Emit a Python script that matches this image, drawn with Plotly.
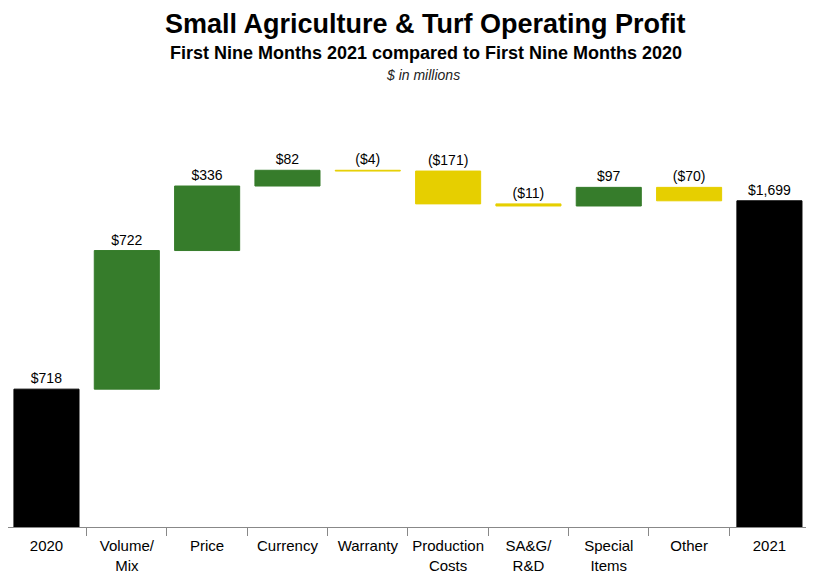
import numpy as np
import plotly.graph_objects as go

categories = ["2020", "Volume/<br>Mix", "Price", "Currency", "Warranty",
              "Production<br>Costs", "SA&G/<br>R&D", "Special<br>Items", "Other", "2021"]
values = [718, 722, 336, 82, -4, -171, -11, 97, -70, 1699]
labels = ["$718", "$722", "$336", "$82", "($4)", "($171)", "($11)", "$97", "($70)", "$1,699"]

GREEN = "#367C2B"
YELLOW = "#E6CF00"
BLACK = "#000000"

# bar bases: totals start at 0, steps start at running total
vals = np.array(values, dtype=float)
steps = vals[1:-1]
ends = vals[0] + np.cumsum(steps)
starts = np.concatenate([[vals[0]], ends[:-1]])
base = [0] + list(np.minimum(starts, ends)) + [0]
height = [vals[0]] + list(np.abs(steps)) + [vals[-1]]
colors = [BLACK] + [GREEN if v > 0 else YELLOW for v in steps] + [BLACK]

font = "Liberation Sans, Arial, sans-serif"

# the page body adds an 8px margin, so the figure is a bit smaller than the window
W, H = 806, 573
TOP, BOTTOM = 102, 54

fig = go.Figure(go.Bar(
    x=categories,
    y=height,
    base=base,
    marker=dict(color=colors, line=dict(color=colors, width=1)),
    text=labels,
    textposition="outside",
    cliponaxis=False,
    textfont=dict(family=font, size=14, color="#000"),
    width=0.81,
    hoverinfo="skip",
))

fig.update_layout(
    width=W, height=H,
    margin=dict(l=0, r=4, t=TOP, b=BOTTOM, autoexpand=False),
    plot_bgcolor="white",
    paper_bgcolor="white",
    showlegend=False,
    font=dict(family=font, color="#000"),
)

def py(page_y):
    # page pixel y -> paper coordinate
    fy = page_y - 8
    bottom = H - BOTTOM
    return (bottom - fy) / (bottom - TOP)

cx = 0.521
fig.add_annotation(text="<b>Small Agriculture & Turf Operating Profit</b>", x=cx, y=py(8),
                   xref="paper", yref="paper", showarrow=False, yanchor="top", borderpad=0,
                   font=dict(family=font, size=27))
fig.add_annotation(text="<b>First Nine Months 2021 compared to First Nine Months 2020</b>", x=cx, y=py(42),
                   xref="paper", yref="paper", showarrow=False, yanchor="top", borderpad=0,
                   font=dict(family=font, size=18))
fig.add_annotation(text="<i>$ in millions</i>", x=cx - 0.004, y=py(66),
                   xref="paper", yref="paper", showarrow=False, yanchor="top", borderpad=0,
                   font=dict(family=font, size=14, color="#222"))

fig.update_xaxes(
    type="category",
    range=[-0.479, 9.505],
    showline=True, linecolor="#888", linewidth=1,
    ticks="outside", tickson="boundaries", ticklen=8, tickcolor="#888",
    tickangle=0, automargin=False, ticklabelstandoff=5,
    tickfont=dict(family=font, size=15),
    showgrid=False,
)
fig.update_yaxes(range=[0, 2172], visible=False, showgrid=False)

fig.write_html("out.html")
